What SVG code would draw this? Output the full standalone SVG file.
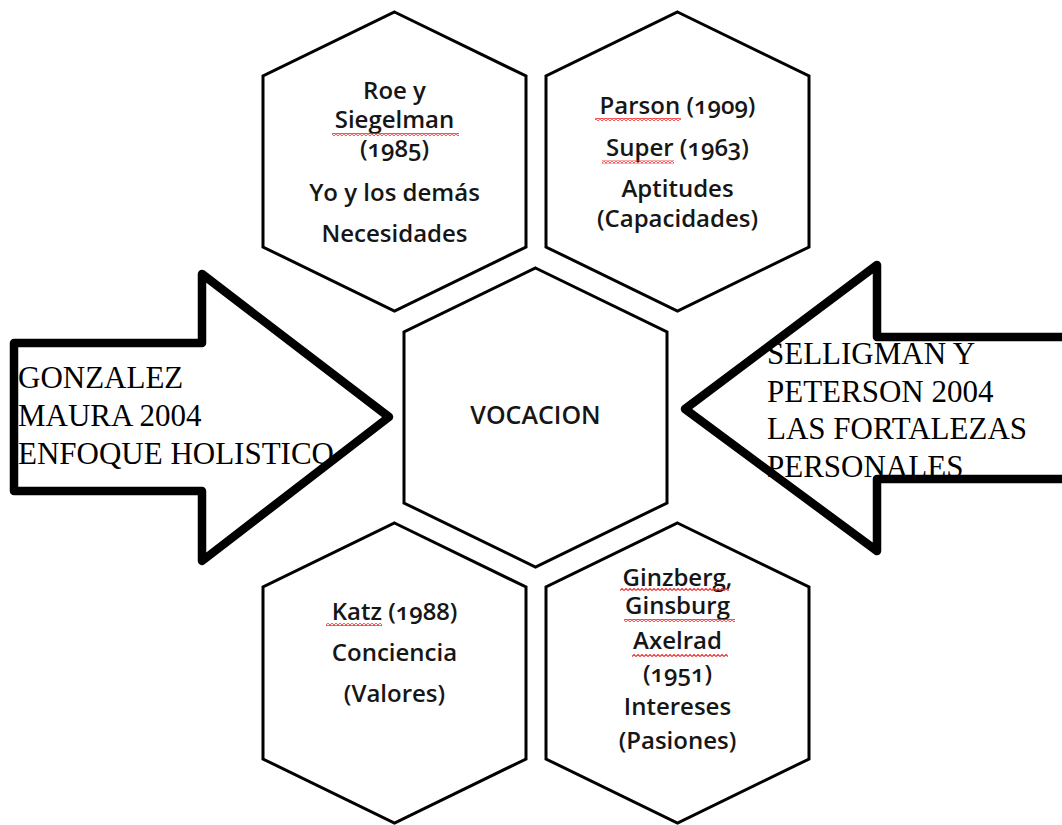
<svg xmlns="http://www.w3.org/2000/svg" width="1062" height="825" viewBox="0 0 1062 825">
<style>
.hex{fill:#fff;stroke:#000;stroke-width:3;stroke-linejoin:miter}
.ht{font-family:"Open Sans","Noto Sans","Liberation Sans",sans-serif;font-size:24px;font-weight:600;fill:#161616;text-anchor:middle;font-variant-numeric:oldstyle-nums}
.at{font-family:"Liberation Serif","Times New Roman",serif;font-size:31px;fill:#000}
.afill{fill:#fff;stroke:none}
.aline{fill:none;stroke:#000;stroke-width:8.5;stroke-linejoin:round}
.sq{fill:url(#squig)}
</style>
<defs>
<pattern id="squig" patternUnits="userSpaceOnUse" width="4" height="3">
<path d="M0,2.5 L2,0.5 L4,2.5" fill="none" stroke="#f03030" stroke-width="1.2"/>
</pattern>
</defs>
<rect width="1062" height="825" fill="#fff"/>

<g id="hex-roe">
<polygon class="hex" points="394.5,12 526,76 526,247 394.5,311 263,247 263,76"/>
<text class="ht" x="394.5" y="99">Roe y</text>
<text class="ht" x="394.5" y="128">Siegelman</text>
<text class="ht" x="394.5" y="157">(1985)</text>
<text class="ht" x="394.5" y="200.5">Yo y los demás</text>
<text class="ht" x="394.5" y="241.5">Necesidades</text>
<rect class="sq" x="332" y="133" width="127" height="3"/>
</g>

<g id="hex-parson">
<polygon class="hex" points="677.5,12 809,76 809,247 677.5,311 546,247 546,76"/>
<text class="ht" x="677.5" y="114">Parson (1909)</text>
<text class="ht" x="677.5" y="156">Super (1963)</text>
<text class="ht" x="677.5" y="197">Aptitudes</text>
<text class="ht" x="677.5" y="226.5">(Capacidades)</text>
<rect class="sq" x="595" y="118" width="86" height="3"/>
<rect class="sq" x="602" y="160.5" width="72" height="3"/>
</g>

<g id="hex-vocacion">
<polygon class="hex" points="535.5,268 667,332 667,503 535.5,567 404,503 404,332"/>
<text class="ht" x="535.5" y="424" style="font-size:25px">VOCACION</text>
</g>

<g id="hex-katz">
<polygon class="hex" points="394.5,523 526,587 526,759 394.5,823 263,759 263,587"/>
<text class="ht" x="394.5" y="620">Katz (1988)</text>
<text class="ht" x="394.5" y="660.5">Conciencia</text>
<text class="ht" x="394.5" y="702">(Valores)</text>
<rect class="sq" x="326" y="623" width="56" height="3"/>
</g>

<g id="hex-ginzberg">
<polygon class="hex" points="677.5,523 809,587 809,759 677.5,823 546,759 546,587"/>
<text class="ht" x="677.5" y="586">Ginzberg,</text>
<text class="ht" x="677.5" y="613.5">Ginsburg</text>
<text class="ht" x="677.5" y="648.5">Axelrad</text>
<text class="ht" x="677.5" y="682">(1951)</text>
<text class="ht" x="677.5" y="714.5">Intereses</text>
<text class="ht" x="677.5" y="749">(Pasiones)</text>
<rect class="sq" x="620" y="588" width="109" height="3"/>
<rect class="sq" x="624" y="619" width="111" height="3"/>
<rect class="sq" x="632" y="654" width="96" height="3"/>
</g>

<g id="arrow-gonzalez">
<polygon class="afill" points="14,343 202,343 202,274 389,417 202,561 202,491 14,491"/>
<text class="at" x="18" y="388">GONZALEZ</text>
<text class="at" x="18" y="426">MAURA 2004</text>
<text class="at" x="18" y="464">ENFOQUE HOLISTICO</text>
<polygon class="aline" points="14,343 202,343 202,274 389,417 202,561 202,491 14,491"/>
</g>

<g id="arrow-selligman">
<polygon class="afill" points="1068,337 877,337 877,265 685,409 877,551 877,479 1068,479"/>
<text class="at" x="767" y="364">SELLIGMAN Y</text>
<text class="at" x="767" y="401.5">PETERSON 2004</text>
<text class="at" x="767" y="439">LAS FORTALEZAS</text>
<text class="at" x="767" y="476.5">PERSONALES</text>
<polygon class="aline" points="1068,337 877,337 877,265 685,409 877,551 877,479 1068,479"/>
</g>

<g id="connectors"></g>
</svg>
